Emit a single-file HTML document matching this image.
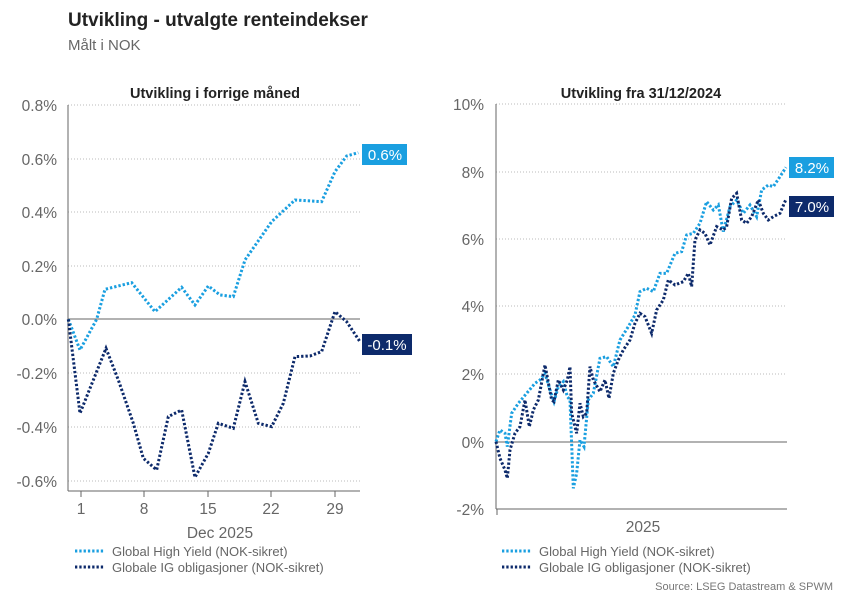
<!DOCTYPE html>
<html><head><meta charset="utf-8"><style>
body{margin:0;background:#fff;width:855px;height:594px;overflow:hidden;font-family:"Liberation Sans",sans-serif}
svg{position:absolute;left:0;top:0}
</style></head><body>
<svg width="855" height="594" viewBox="0 0 855 594" font-family="Liberation Sans, sans-serif">
<text x="68" y="26" font-size="19" font-weight="bold" fill="#222">Utvikling - utvalgte renteindekser</text>
<text x="68" y="50" font-size="15" fill="#666">Målt i NOK</text>

<!-- LEFT -->
<text x="215" y="98" font-size="14.5" font-weight="bold" fill="#222" text-anchor="middle">Utvikling i forrige måned</text>
<g stroke="#bbb" stroke-width="1" stroke-dasharray="1 2">
<line x1="68" x2="360" y1="105" y2="105"/><line x1="68" x2="360" y1="159" y2="159"/>
<line x1="68" x2="360" y1="212" y2="212"/><line x1="68" x2="360" y1="266" y2="266"/>
<line x1="68" x2="360" y1="373" y2="373"/><line x1="68" x2="360" y1="427" y2="427"/>
<line x1="68" x2="360" y1="481" y2="481"/></g>
<line x1="68" x2="360" y1="319" y2="319" stroke="#666"/>
<line x1="68" x2="68" y1="105" y2="491" stroke="#666"/>
<line x1="68" x2="360" y1="491" y2="491" stroke="#666"/>
<g stroke="#666"><line x1="81" x2="81" y1="491" y2="497"/><line x1="144" x2="144" y1="491" y2="497"/><line x1="208" x2="208" y1="491" y2="497"/><line x1="271" x2="271" y1="491" y2="497"/><line x1="335" x2="335" y1="491" y2="497"/></g>
<g font-size="15.5" fill="#666" text-anchor="end">
<text x="57" y="111">0.8%</text><text x="57" y="165">0.6%</text><text x="57" y="218">0.4%</text><text x="57" y="272">0.2%</text><text x="57" y="325">0.0%</text><text x="57" y="379">-0.2%</text><text x="57" y="433">-0.4%</text><text x="57" y="487">-0.6%</text></g>
<g font-size="15.5" fill="#666" text-anchor="middle">
<text x="81" y="514">1</text><text x="144" y="514">8</text><text x="208" y="514">15</text><text x="271" y="514">22</text><text x="335" y="514">29</text>
<text x="220" y="538">Dec 2025</text></g>
<g transform="translate(0,80) scale(0.3333)" fill="none" stroke-width="9" stroke-dasharray="7 6">
<polyline stroke="#1a9fe0" points="205,718 240,810 290,718 315,628 395,608 465,695 545,622 585,675 625,618 660,645 700,650 735,540 815,425 885,360 965,365 1005,275 1040,228 1075,218"/>
<polyline stroke="#0d2a6b" points="205,718 240,1000 318,805 355,900 400,1030 430,1135 470,1170 505,1010 545,990 585,1192 625,1120 655,1030 700,1045 735,905 775,1030 815,1040 850,970 885,830 930,828 965,815 1005,695 1040,725 1080,785"/>
</g>
<rect x="362" y="144" width="45" height="21" fill="#1a9fe0"/><text x="385" y="160" font-size="15" fill="#fff" text-anchor="middle">0.6%</text>
<rect x="362" y="334" width="50" height="21" fill="#0d2a6b"/><text x="387" y="350" font-size="15" fill="#fff" text-anchor="middle">-0.1%</text>
<line x1="75" x2="104" y1="551" y2="551" stroke="#1a9fe0" stroke-width="3" stroke-dasharray="2.3 2"/>
<line x1="75" x2="104" y1="567" y2="567" stroke="#0d2a6b" stroke-width="3" stroke-dasharray="2.3 2"/>
<text x="112" y="556" font-size="13" fill="#666">Global High Yield (NOK-sikret)</text>
<text x="112" y="572" font-size="13" fill="#666">Globale IG obligasjoner (NOK-sikret)</text>

<!-- RIGHT -->
<text x="641" y="98" font-size="14.5" font-weight="bold" fill="#222" text-anchor="middle">Utvikling fra 31/12/2024</text>
<g stroke="#bbb" stroke-width="1" stroke-dasharray="1 2">
<line x1="496" x2="787" y1="104" y2="104"/><line x1="496" x2="787" y1="172" y2="172"/>
<line x1="496" x2="787" y1="239" y2="239"/><line x1="496" x2="787" y1="306" y2="306"/>
<line x1="496" x2="787" y1="374" y2="374"/></g>
<line x1="496" x2="787" y1="442" y2="442" stroke="#666"/>
<line x1="496" x2="496" y1="104" y2="509" stroke="#666"/>
<line x1="496" x2="787" y1="509" y2="509" stroke="#666"/>
<line x1="497" x2="497" y1="509" y2="515" stroke="#666"/>
<g font-size="15.5" fill="#666" text-anchor="end">
<text x="484" y="110">10%</text><text x="484" y="178">8%</text><text x="484" y="245">6%</text><text x="484" y="312">4%</text><text x="484" y="380">2%</text><text x="484" y="448">0%</text><text x="484" y="515">-2%</text></g>
<text x="643" y="532" font-size="15.5" fill="#666" text-anchor="middle">2025</text>
<g transform="translate(430,80) scale(0.3333)" fill="none" stroke-width="9" stroke-dasharray="7 6">
<polyline stroke="#1a9fe0" points="198,1085 210,1050 225,1060 232,1100 245,1000 265,970 290,940 315,910 330,900 345,880 360,930 372,965 385,920 400,905 412,950 420,960 430,1225 440,1180 450,1080 462,1100 475,960 490,940 510,835 530,830 550,860 570,780 595,740 615,705 630,635 650,625 670,635 690,580 710,580 735,520 755,515 770,465 790,460 810,430 830,365 850,390 865,375 880,455 900,380 920,360 940,400 960,375 980,410 995,330 1015,315 1030,320 1050,290 1068,262"/>
<polyline stroke="#0d2a6b" points="198,1085 210,1135 225,1170 232,1195 240,1110 255,1060 270,1040 285,960 298,1040 310,990 325,960 345,855 365,960 372,965 385,900 400,930 412,900 420,860 425,1000 440,1060 450,970 460,1010 470,1000 480,860 490,900 510,935 525,900 537,955 550,880 565,840 580,810 600,780 615,730 630,700 645,710 665,760 680,690 700,660 715,600 735,615 760,605 775,580 785,620 795,480 810,450 825,460 840,495 860,440 880,450 890,440 905,355 920,340 935,420 950,430 965,410 985,360 1000,400 1015,420 1030,410 1050,400 1068,358"/>
</g>
<rect x="789" y="157" width="45" height="21" fill="#1a9fe0"/><text x="812" y="173" font-size="15" fill="#fff" text-anchor="middle">8.2%</text>
<rect x="789" y="196" width="45" height="21" fill="#0d2a6b"/><text x="812" y="212" font-size="15" fill="#fff" text-anchor="middle">7.0%</text>
<line x1="502" x2="531" y1="551" y2="551" stroke="#1a9fe0" stroke-width="3" stroke-dasharray="2.3 2"/>
<line x1="502" x2="531" y1="567" y2="567" stroke="#0d2a6b" stroke-width="3" stroke-dasharray="2.3 2"/>
<text x="539" y="556" font-size="13" fill="#666">Global High Yield (NOK-sikret)</text>
<text x="539" y="572" font-size="13" fill="#666">Globale IG obligasjoner (NOK-sikret)</text>
<text x="833" y="590" font-size="11" fill="#777" text-anchor="end">Source: LSEG Datastream &amp; SPWM</text>
</svg>
</body></html>
